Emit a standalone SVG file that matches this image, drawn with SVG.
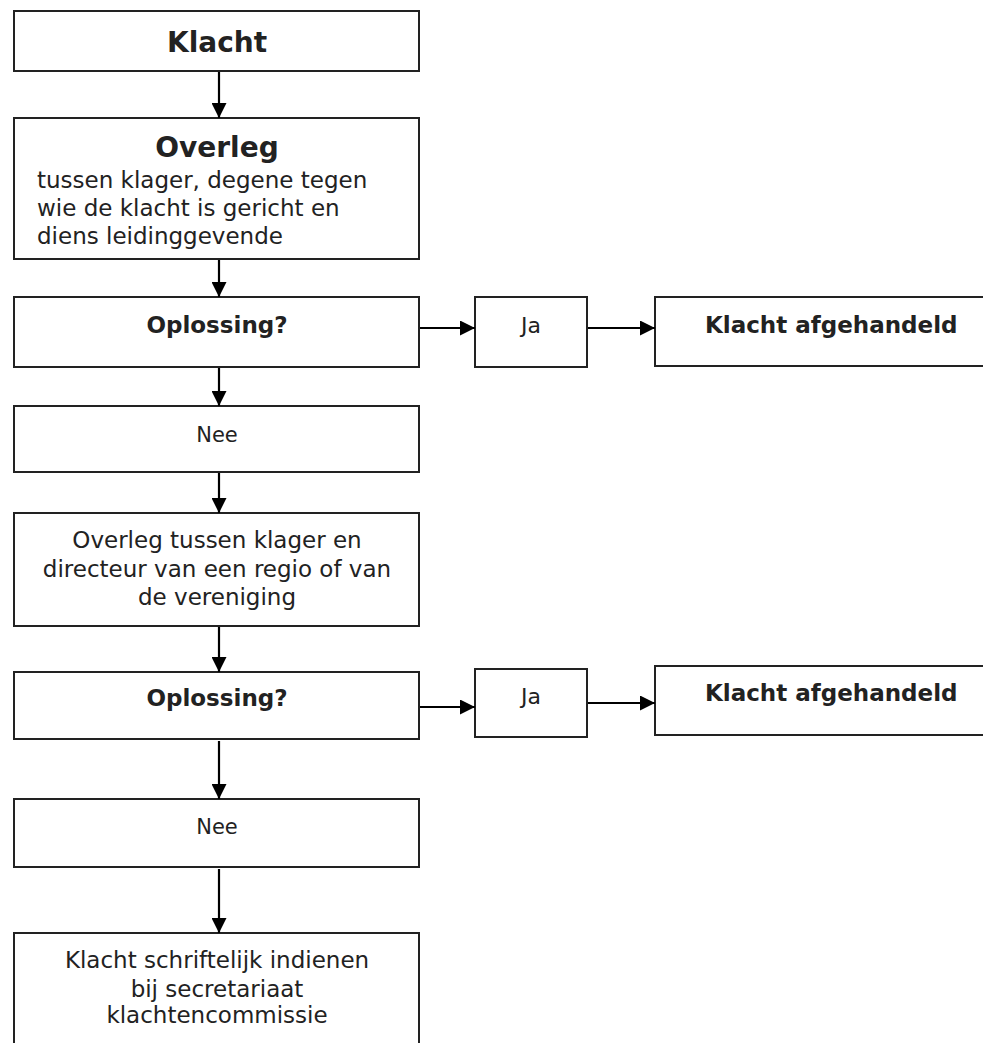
<svg xmlns="http://www.w3.org/2000/svg" width="983" height="1043" viewBox="0 0 983 1043">
<defs>
<marker id="ah" markerUnits="userSpaceOnUse" markerWidth="15" markerHeight="15" refX="15" refY="7.5" orient="auto">
<path d="M0,0 L15,7.5 L0,15 z" fill="#000"/>
</marker>
<style>
.box{fill:#fff;stroke:#222;stroke-width:2}
.t{font-family:"DejaVu Sans",Verdana,sans-serif;fill:#222;font-size:23px}
.b{font-weight:bold}
.c{text-anchor:middle}
.big{font-size:28px}
.s22{font-size:22px}
.s21{font-size:21px}
.con line{stroke:#000;stroke-width:2.2;marker-end:url(#ah)}
</style>
</defs>
<rect width="983" height="1043" fill="#fff"/>
<g id="n-klacht">
<rect class="box" x="14" y="11" width="405" height="60"/>
<text class="t b c big" x="217" y="52">Klacht</text>
</g>
<g id="n-overleg1">
<rect class="box" x="14" y="118" width="405" height="141"/>
<text class="t b c big" x="217" y="157">Overleg</text>
<text class="t" x="37" y="188">tussen klager, degene tegen</text>
<text class="t" x="37" y="216">wie de klacht is gericht en</text>
<text class="t" x="37" y="244">diens leidinggevende</text>
</g>
<g id="n-oplossing1">
<rect class="box" x="14" y="297" width="405" height="70"/>
<text class="t b c" x="217" y="333">Oplossing?</text>
</g>
<g id="n-ja1">
<rect class="box" x="475" y="297" width="112" height="70"/>
<text class="t c s22" x="531" y="333">Ja</text>
</g>
<g id="n-afgehandeld1">
<rect class="box" x="655" y="297" width="340" height="69"/>
<text class="t b" x="705" y="333">Klacht afgehandeld</text>
</g>
<g id="n-nee1">
<rect class="box" x="14" y="406" width="405" height="66"/>
<text class="t c s21" x="217" y="442">Nee</text>
</g>
<g id="n-overleg2">
<rect class="box" x="14" y="513" width="405" height="113"/>
<text class="t c" x="217" y="548">Overleg tussen klager en</text>
<text class="t c" x="217" y="577">directeur van een regio of van</text>
<text class="t c" x="217" y="605">de vereniging</text>
</g>
<g id="n-oplossing2">
<rect class="box" x="14" y="672" width="405" height="67"/>
<text class="t b c" x="217" y="706">Oplossing?</text>
</g>
<g id="n-ja2">
<rect class="box" x="475" y="669" width="112" height="68"/>
<text class="t c s22" x="531" y="704">Ja</text>
</g>
<g id="n-afgehandeld2">
<rect class="box" x="655" y="666" width="340" height="69"/>
<text class="t b" x="705" y="701">Klacht afgehandeld</text>
</g>
<g id="n-nee2">
<rect class="box" x="14" y="799" width="405" height="68"/>
<text class="t c s21" x="217" y="834">Nee</text>
</g>
<g id="n-schriftelijk">
<rect class="box" x="14" y="933" width="405" height="130"/>
<text class="t c" x="217" y="968">Klacht schriftelijk indienen</text>
<text class="t c" x="217" y="997">bij secretariaat</text>
<text class="t c" x="217" y="1023">klachtencommissie</text>
</g>
<g id="connectors" class="con">
<line x1="219" y1="72" x2="219" y2="118"/>
<line x1="219" y1="260" x2="219" y2="297"/>
<line x1="219" y1="368" x2="219" y2="406"/>
<line x1="219" y1="473" x2="219" y2="513"/>
<line x1="219" y1="627" x2="219" y2="672"/>
<line x1="219" y1="741" x2="219" y2="799"/>
<line x1="219" y1="869" x2="219" y2="933"/>
<line x1="420" y1="328" x2="475" y2="328"/>
<line x1="588" y1="328" x2="655" y2="328"/>
<line x1="420" y1="707" x2="475" y2="707"/>
<line x1="588" y1="703" x2="655" y2="703"/>
</g>
</svg>
